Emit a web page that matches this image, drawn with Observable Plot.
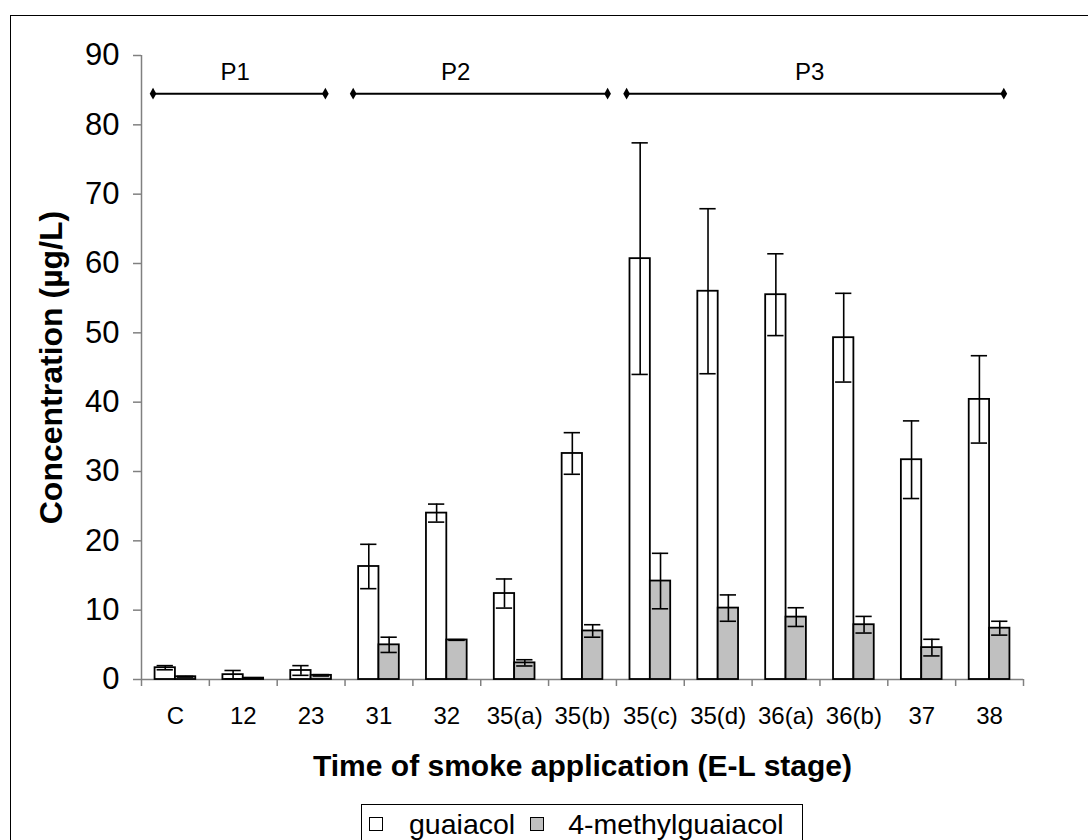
<!DOCTYPE html>
<html>
<head>
<meta charset="utf-8">
<script src="https://cdn.jsdelivr.net/npm/d3@7"></script>
<script src="https://cdn.jsdelivr.net/npm/@observablehq/plot@0.6"></script>
<style>
  html, body { margin: 0; padding: 0; background: #fff; overflow: hidden; }
  body { width: 1088px; height: 840px; position: relative; font-family: "Liberation Sans", Arial, sans-serif; }
  #frame { position: absolute; left: 10px; top: 15px; width: 1200px; height: 1000px; border: 1.5px solid #000; box-sizing: border-box; }
  #chart { position: absolute; left: 0; top: 0; }
  #legend { position: absolute; left: 361px; top: 804px; width: 442px; height: 40px; border: 1.5px solid #000; box-sizing: border-box;
            background: #fff; display: flex; align-items: center; font-size: 28.5px; color: #000; }
  #legend .sw { display: inline-block; width: 14px; height: 14px; border: 1.5px solid #000; box-sizing: border-box; }
</style>
</head>
<body>
<div id="frame"></div>
<div id="chart"></div>
<div id="legend">
  <span class="sw" style="background:#fff; margin: 0 26px 0 7px"></span><span>guaiacol</span>
  <span class="sw" style="background:#c0c0c0; margin: 0 24px 0 15px"></span><span>4-methylguaiacol</span>
</div>
<script>
// E-L stage at which smoke was applied (category labels)
const stages = ["C", "12", "23", "31", "32", "35(a)", "35(b)", "35(c)", "35(d)", "36(a)", "36(b)", "37", "38"];

// Mean concentrations (µg/L) and their error (± value)
const guaiacol    = [1.7, 0.7, 1.3, 16.3, 24.0, 12.4, 32.6, 60.7, 56.0, 55.5, 49.3, 31.7, 40.4];
const guaiacolErr = [0.3, 0.6, 0.7, 3.2, 1.3, 2.1, 3.0, 16.7, 11.9, 5.9, 6.4, 5.6, 6.3];
const methyl      = [0.4, 0.2, 0.6, 5.0, 5.7, 2.4, 7.0, 14.2, 10.3, 9.0, 7.9, 4.6, 7.4];
const methylErr   = [0.05, 0.05, 0.1, 1.1, 0.05, 0.45, 0.9, 4.0, 1.9, 1.35, 1.2, 1.2, 1.0];

const seriesNames = ["guaiacol", "4-methylguaiacol"];

// Growth periods spanning the stages (in stage-slot units along x)
const periods      = ["P1", "P2", "P3"];
const periodStart  = [0.17, 3.12, 7.15];
const periodEnd    = [2.71, 6.87, 12.71];
const periodLabelX = [1.38, 4.63, 9.85];
const periodLevel  = 84.5;

const yTicks = d3.range(0, 91, 10);

// Each stage occupies one unit slot; the pair of bars sits in its middle
const barStart = 0.2, barWidth = 0.3, capHalf = 0.12;
const fills = {"guaiacol": "#ffffff", "4-methylguaiacol": "#c0c0c0"};

const rows = stages.flatMap((stage, i) => [
  {stage, series: seriesNames[0], value: guaiacol[i], err: guaiacolErr[i], x1: i + barStart, x2: i + barStart + barWidth},
  {stage, series: seriesNames[1], value: methyl[i], err: methylErr[i], x1: i + barStart + barWidth, x2: i + barStart + 2 * barWidth}
]).map(d => ({...d, xc: (d.x1 + d.x2) / 2, lo: d.value - d.err, hi: d.value + d.err}));

const periodRows = periods.map((p, k) => ({p, x1: periodStart[k], x2: periodEnd[k], lx: periodLabelX[k]}));
const periodEnds = periodRows.flatMap(d => [{x: d.x1}, {x: d.x2}]);

const font = "'Liberation Sans', Arial, sans-serif";

const chart = Plot.plot({
  width: 1088,
  height: 800,
  marginLeft: 141,
  marginRight: 65,
  marginTop: 55,
  marginBottom: 121,
  style: {fontFamily: font, background: "transparent", color: "#000"},
  x: {domain: [0, stages.length], axis: null},
  y: {domain: [0, 90], axis: null},
  marks: [
    // axis lines
    Plot.ruleX([0], {stroke: "#808080", strokeWidth: 1.5}),
    Plot.ruleY([0], {stroke: "#808080", strokeWidth: 1.5}),
    // y ticks and labels
    Plot.axisY({ticks: yTicks, tickSize: 8, tickPadding: 14, fontSize: 31, stroke: "#808080", strokeWidth: 1.5, fill: "#000"}),
    // category boundary ticks
    Plot.axisX({ticks: d3.range(0, stages.length + 1), tickSize: 7, tickFormat: () => "", stroke: "#808080", strokeWidth: 1.5}),
    // category labels centred in each slot
    Plot.axisX({ticks: stages.map((s, i) => i + 0.5), tickSize: 0, tickPadding: 27, fontSize: 24, fill: "#000",
                tickFormat: d => stages[Math.floor(d)]}),
    // bars
    Plot.rectY(rows, {x1: "x1", x2: "x2", y: "value", fill: d => fills[d.series], stroke: "#000", strokeWidth: 1.8}),
    // error bars
    Plot.ruleX(rows, {x: "xc", y1: "lo", y2: "hi", stroke: "#000", strokeWidth: 1.6}),
    Plot.ruleY(rows, {x1: d => d.xc - capHalf, x2: d => d.xc + capHalf, y: "hi", stroke: "#000", strokeWidth: 1.6}),
    Plot.ruleY(rows, {x1: d => d.xc - capHalf, x2: d => d.xc + capHalf, y: "lo", stroke: "#000", strokeWidth: 1.6}),
    // growth period brackets
    Plot.ruleY(periodRows, {x1: "x1", x2: "x2", y: periodLevel, stroke: "#000", strokeWidth: 2}),
    Plot.dot(periodEnds, {x: "x", y: periodLevel, symbol: "diamond", r: 3.5, fill: "#000"}),
    Plot.text(periodRows, {x: "lx", y: periodLevel, text: "p", dy: -21, fontSize: 24, fill: "#000"}),
    // axis titles
    Plot.text(["Time of smoke application (E-L stage)"], {text: d => d, frameAnchor: "bottom", dy: 87,
              textAnchor: "middle", lineAnchor: "middle", fontSize: 30, fontWeight: "bold", fill: "#000"}),
    Plot.text(["Concentration (µg/L)"], {text: d => d, frameAnchor: "left", dx: -90, rotate: -90,
              textAnchor: "middle", lineAnchor: "middle", fontSize: 32, fontWeight: "bold", fill: "#000"})
  ]
});

document.getElementById("chart").appendChild(chart);
</script>
</body>
</html>
